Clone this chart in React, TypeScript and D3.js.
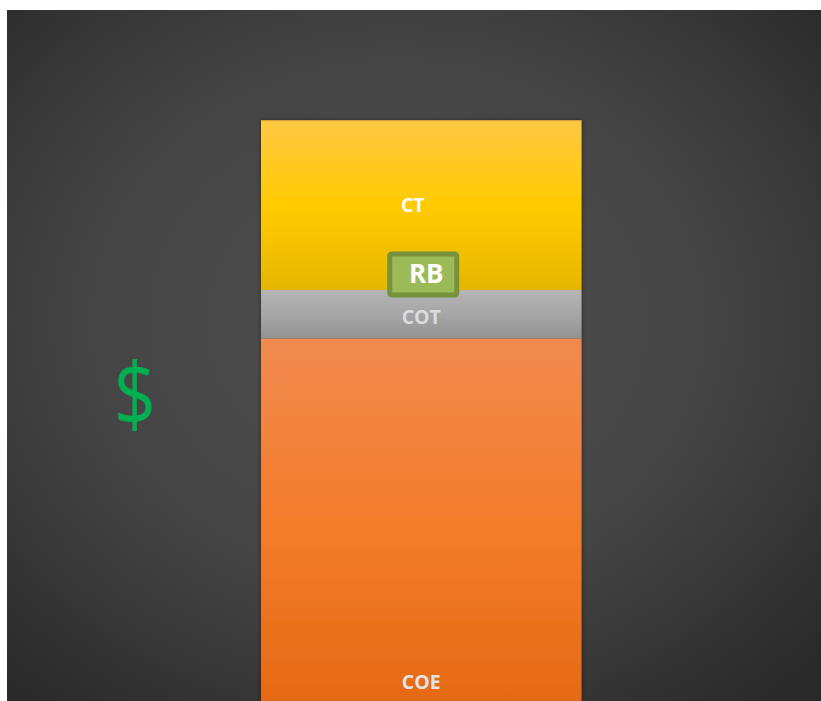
import React from "react";
import * as d3 from "d3";

const categories = ["COE", "COT", "CT"];
const values = [75, 10, 35];
const labelColors = ["#e3e3e3", "#dcdcdc", "#ffffff"];
const barName = ["Total"];
const rbLabel = "RB";
const rbValue = 88.2;

const W = 821;
const H = 701;

export default function App() {
  const y = d3.scaleLinear().domain([0, 120]).range([702, 120.3]);
  const x = d3.scaleBand().domain(barName).range([261, 581.5]).padding(0);
  const row: any = {};
  categories.forEach((c, i) => (row[c] = values[i]));
  const stack = d3.stack().keys(categories)([row]);
  const bx = x("Total")!;
  const bw = x.bandwidth();
  const cx = bx + bw / 2;

  const grads: Record<string, [string, string, string]> = {
    COE: ["#f08a50", "#f47d2c", "#e56a15"],
    COT: ["#b5b5b5", "#a6a6a6", "#939393"],
    CT: ["#ffc844", "#ffcb00", "#e6b700"],
  };

  const labelY = (i: number, s: any) => {
    const [y0, y1] = s[0];
    if (categories[i] === "COE") return y(y0) - 12.7;
    if (categories[i] === "COT") return (y(y0) + y(y1)) / 2 + 9.5;
    return (y(y0) + y(y1)) / 2 + 7;
  };

  return (
    <svg
      width={W}
      height={H}
      style={{ position: "absolute", left: 0, top: 0, display: "block" }}
      fontFamily="'Open Sans', 'Noto Sans', sans-serif"
    >
      <defs>
        <radialGradient id="bg" cx="48%" cy="45%" r="72%">
          <stop offset="0%" stopColor="#4f4f4f" />
          <stop offset="55%" stopColor="#444444" />
          <stop offset="100%" stopColor="#292929" />
        </radialGradient>
        {categories.map((c) => (
          <linearGradient key={c} id={"g" + c} x1="0" y1="0" x2="0" y2="1">
            <stop offset="0%" stopColor={grads[c][0]} />
            <stop offset="50%" stopColor={grads[c][1]} />
            <stop offset="100%" stopColor={grads[c][2]} />
          </linearGradient>
        ))}
        <filter id="sh" x="-10%" y="-10%" width="120%" height="120%">
          <feDropShadow dx="0" dy="0" stdDeviation="2" floodColor="#000" floodOpacity="0.45" />
        </filter>
      </defs>
      <rect x={0} y={0} width={W} height={H} fill="#ffffff" />
      <rect x={7} y={10} width={W - 7} height={H - 10} fill="url(#bg)" />
      <g filter="url(#sh)">
        {stack.map((s, i) => (
          <rect
            key={categories[i]}
            x={bx}
            y={y(s[0][1])}
            width={bw}
            height={y(s[0][0]) - y(s[0][1])}
            fill={`url(#g${categories[i]})`}
          />
        ))}
      </g>
      <line x1={bx} x2={bx + bw} y1={y(120) + 0.5} y2={y(120) + 0.5} stroke="#d9a93a" strokeWidth={1} />
      {stack.map((s, i) => (
        <text
          key={"l" + categories[i]}
          x={categories[i] === "CT" ? cx - 8.5 : cx}
          y={labelY(i, s)}
          textAnchor="middle"
          fontWeight="bold"
          fontSize={19.5}
          fill={labelColors[i]}
        >
          {categories[i]}
        </text>
      ))}
      <g>
        <rect
          x={cx + 2 - 33.5}
          y={y(rbValue) - 20.5}
          width={67}
          height={41}
          rx={2}
          fill="#9bbb59"
          stroke="#76923c"
          strokeWidth={5}
        />
        <text
          x={cx + 5}
          y={y(rbValue) + 9}
          textAnchor="middle"
          fontWeight="bold"
          fontSize={26}
          fill="#ffffff"
        >
          {rbLabel}
        </text>
      </g>
      <g transform="translate(135,426) scale(0.84,1)">
        <text
          x={0}
          y={0}
          textAnchor="middle"
          fontSize={88}
          fontWeight={400}
          fill="#00b050"
        >
          $
        </text>
      </g>
    </svg>
  );
}
